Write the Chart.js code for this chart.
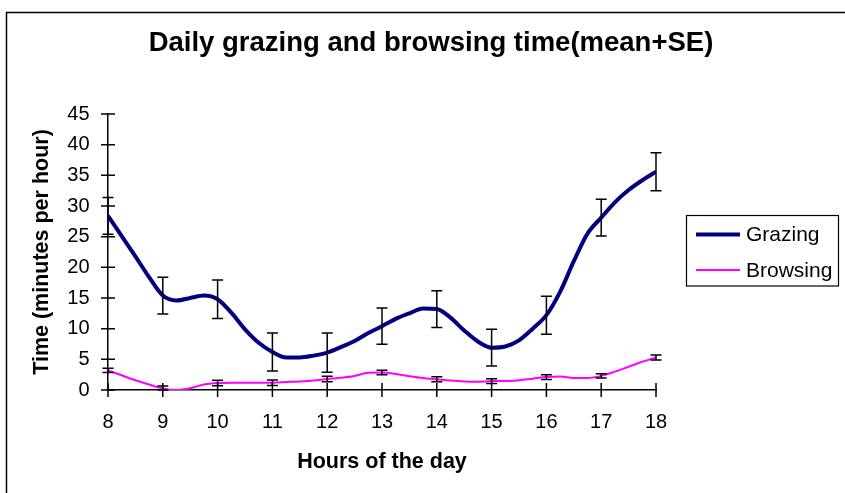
<!DOCTYPE html>
<html><head><meta charset="utf-8">
<script src="https://cdn.jsdelivr.net/npm/chart.js@4.4.1/dist/chart.umd.min.js"></script>
<style>html,body{margin:0;padding:0;background:#fff;}canvas{display:block;}</style>
</head><body>
<canvas id="c" width="845" height="493"></canvas>
<script>
const chartTitle = 'Daily grazing and browsing time(mean+SE)';
const xTitle = 'Hours of the day';
const yTitle = 'Time (minutes per hour)';
const seriesNames = ['Grazing', 'Browsing'];

const hours = [8, 8.25, 8.5, 8.75, 9, 9.25, 9.5, 9.75, 10, 10.25, 10.5, 10.75, 11, 11.25, 11.5, 11.75,
  12, 12.25, 12.5, 12.75, 13, 13.25, 13.5, 13.75, 14, 14.25, 14.5, 14.75, 15, 15.25, 15.5, 15.75,
  16, 16.25, 16.5, 16.75, 17, 17.25, 17.5, 17.75, 18];
const grazing = [28.4, 25.1, 21.8, 18.4, 15.4, 14.6, 15.0, 15.4, 14.8, 12.6, 9.9, 7.7, 6.2, 5.3, 5.3, 5.6,
  6.1, 7.0, 8.0, 9.3, 10.4, 11.6, 12.5, 13.3, 13.2, 11.8, 9.7, 7.9, 6.9, 7.1, 8.1, 10.0,
  12.2, 16.0, 21.0, 25.5, 28.1, 30.6, 32.6, 34.2, 35.6];
const browsing = [3.2, 2.4, 1.6, 0.9, 0.25, 0.0, 0.3, 0.9, 1.15, 1.2, 1.2, 1.2, 1.2, 1.3, 1.4, 1.55,
  1.8, 2.0, 2.3, 2.8, 2.85, 2.6, 2.25, 1.95, 1.75, 1.55, 1.4, 1.35, 1.45, 1.45, 1.6, 1.85,
  2.1, 2.2, 1.95, 1.95, 2.3, 3.0, 3.8, 4.6, 5.3];
const errorHours = [8, 9, 10, 11, 12, 13, 14, 15, 16, 17, 18];
const grazingSE = [3.0, 3.0, 3.15, 3.1, 3.2, 2.95, 3.0, 3.0, 3.1, 3.0, 3.1];
const browsingSE = [0.35, 0.4, 0.45, 0.45, 0.45, 0.38, 0.4, 0.4, 0.4, 0.36, 0.4];

const FONT = "'Liberation Sans', Arial, sans-serif";

const framePlugin = {
  id: 'frame',
  beforeDraw(chart) {
    const ctx = chart.ctx;
    ctx.save();
    ctx.fillStyle = '#fff';
    ctx.fillRect(0, 0, chart.width, chart.height);
    ctx.strokeStyle = '#000';
    ctx.lineWidth = 1.5;
    ctx.strokeRect(6.5, 12.5, chart.width + 20, chart.height + 20);
    ctx.fillStyle = '#000';
    ctx.font = 'bold 27.5px ' + FONT;
    ctx.textAlign = 'center';
    ctx.textBaseline = 'middle';
    ctx.fillText(chartTitle, 431, 43);
    ctx.restore();
  }
};

const tickPlugin = {
  id: 'crossTicks',
  afterDraw(chart) {
    const {ctx, chartArea, scales: {x, y}} = chart;
    ctx.save();
    ctx.strokeStyle = '#000';
    ctx.lineWidth = 1.5;
    ctx.beginPath();
    x.ticks.forEach(t => {
      const px = x.getPixelForValue(t.value);
      ctx.moveTo(px, chartArea.bottom - 7);
      ctx.lineTo(px, chartArea.bottom + 7);
    });
    y.ticks.forEach(t => {
      const py = y.getPixelForValue(t.value);
      ctx.moveTo(chartArea.left - 7, py);
      ctx.lineTo(chartArea.left + 7, py);
    });
    ctx.stroke();
    ctx.restore();
  }
};

const errorBarPlugin = {
  id: 'errorBars',
  afterDatasetsDraw(chart) {
    const {ctx, scales: {x, y}} = chart;
    ctx.save();
    ctx.strokeStyle = '#000';
    ctx.lineWidth = 1.5;
    chart.data.datasets.forEach(ds => {
      errorHours.forEach((h, i) => {
        const pt = ds.data.find(p => p.x === h);
        if (!pt) return;
        const se = ds.se[i];
        const px = x.getPixelForValue(h);
        const yt = y.getPixelForValue(pt.y + se);
        const yb = y.getPixelForValue(Math.max(0, pt.y - se));
        ctx.beginPath();
        ctx.moveTo(px, yt); ctx.lineTo(px, yb);
        ctx.moveTo(px - 5.5, yt); ctx.lineTo(px + 5.5, yt);
        ctx.moveTo(px - 5.5, yb); ctx.lineTo(px + 5.5, yb);
        ctx.stroke();
      });
    });
    ctx.restore();
  }
};

const legendPlugin = {
  id: 'boxLegend',
  afterDraw(chart) {
    const ctx = chart.ctx;
    ctx.save();
    ctx.strokeStyle = '#000';
    ctx.lineWidth = 1.2;
    ctx.strokeRect(686.5, 215.5, 152, 70.5);
    const rows = [234.5, 270];
    chart.data.datasets.forEach((ds, i) => {
      ctx.strokeStyle = ds.borderColor;
      ctx.lineWidth = ds.borderWidth;
      ctx.beginPath();
      ctx.moveTo(696, rows[i]);
      ctx.lineTo(740, rows[i]);
      ctx.stroke();
      ctx.fillStyle = '#000';
      ctx.font = '21px ' + FONT;
      ctx.textAlign = 'left';
      ctx.textBaseline = 'middle';
      ctx.fillText(ds.label, 746, rows[i] + 1);
    });
    ctx.restore();
  }
};

new Chart(document.getElementById('c'), {
  type: 'line',
  data: {
    datasets: [
      {
        label: seriesNames[0],
        data: hours.map((h, i) => ({x: h, y: grazing[i]})),
        se: grazingSE,
        borderColor: '#000080',
        borderWidth: 4,
        pointRadius: 0,
        cubicInterpolationMode: 'monotone',
        fill: false
      },
      {
        label: seriesNames[1],
        data: hours.map((h, i) => ({x: h, y: browsing[i]})),
        se: browsingSE,
        borderColor: '#FF00FF',
        borderWidth: 2,
        pointRadius: 0,
        cubicInterpolationMode: 'monotone',
        fill: false
      }
    ]
  },
  options: {
    responsive: false,
    animation: false,
    devicePixelRatio: 1,
    layout: {padding: {top: 114, right: 189, left: 0, bottom: 0}},
    plugins: {legend: {display: false}, title: {display: false}, tooltip: {enabled: false}},
    scales: {
      x: {
        type: 'linear', min: 8, max: 18,
        ticks: {stepSize: 1, color: '#000', font: {family: FONT, size: 20}, padding: 20, maxRotation: 0, autoSkip: false},
        grid: {display: false, drawTicks: false, tickLength: 0},
        border: {display: true, color: '#000', width: 1.5},
        title: {display: true, text: xTitle, color: '#000', font: {family: FONT, size: 21.5, weight: 'bold'}, padding: {top: 0, bottom: 18}},
        afterFit(s) { s.height = 103; }
      },
      y: {
        min: 0, max: 45,
        ticks: {stepSize: 5, color: '#000', font: {family: FONT, size: 20}, padding: 18.5},
        grid: {display: false, drawTicks: false, tickLength: 0},
        border: {display: true, color: '#000', width: 1.5},
        title: {display: true, text: yTitle, color: '#000', font: {family: FONT, size: 21.5, weight: 'bold'}, padding: {top: 29, bottom: 0}},
        afterFit(s) { s.width = 108; }
      }
    }
  },
  plugins: [framePlugin, errorBarPlugin, tickPlugin, legendPlugin]
});
</script>
</body></html>
